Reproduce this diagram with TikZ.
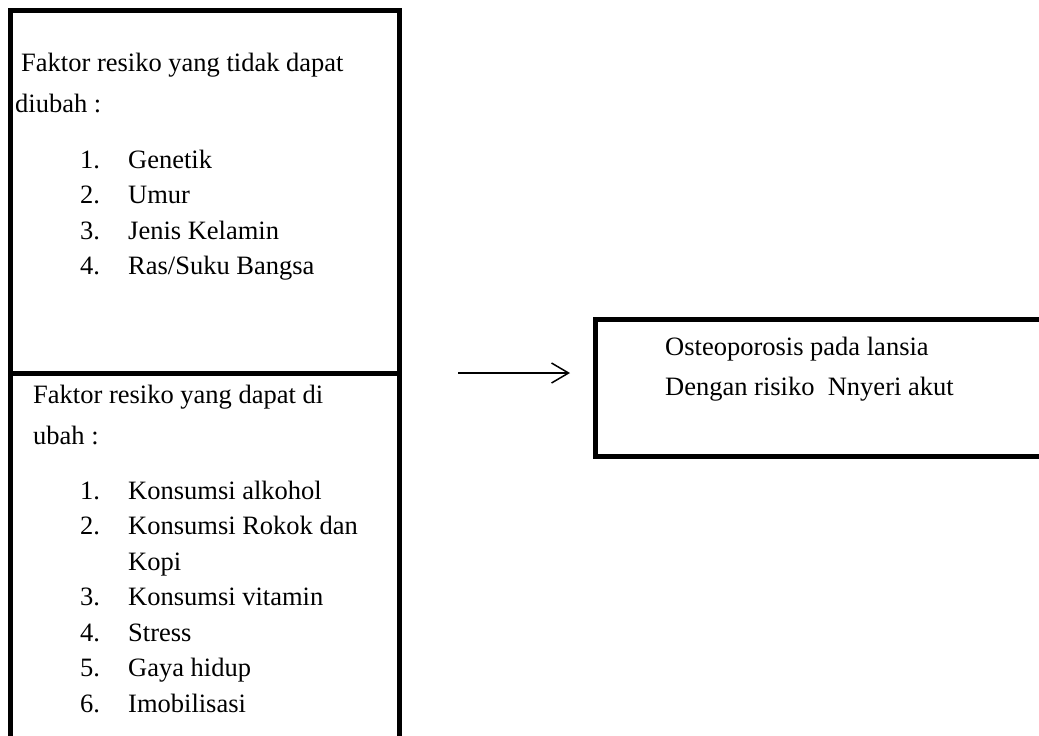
\documentclass[tikz,border=0pt]{standalone}
\usepackage{fontspec}
\setmainfont{Liberation Serif}
\usetikzlibrary{arrows.meta,positioning}

\begin{document}
\begin{tikzpicture}[
    x=1pt, y=-1pt,
    kotak/.style={draw, line width=5pt, rectangle, anchor=north west, inner sep=0pt, outer sep=0pt},
    teks/.style={anchor=base west, inner sep=0pt, font=\fontsize{26.5}{26.5}\selectfont},
    panah/.style={-{Straight Barb[length=17pt,width=20pt]}, line width=1.5pt}
  ]
  \useasboundingbox (0,0) rectangle (1039,736);
  \node[kotak, minimum width=389pt, minimum height=363.5pt] (tetap) at (10.5,10) {};
  \node[kotak, minimum width=389pt, minimum height=400pt] (ubah) at (10.5,373.5) {};
  \node[kotak, minimum width=450pt, minimum height=137pt] (hasil) at (595.5,319.5) {};

  \node[teks] (tetap-judul1) at (21,71) {Faktor resiko yang tidak dapat};
  \node[teks] (tetap-judul2) at (15,112) {diubah :};
  \foreach \isi [count=\i] in {Genetik, Umur, Jenis Kelamin, Ras/Suku Bangsa} {
    \node[teks] (tetap-no\i) at (80,{168+35.5*(\i-1)}) {\i.};
    \node[teks] (tetap-isi\i) at (128,{168+35.5*(\i-1)}) {\isi};
  }

  \node[teks] (ubah-judul1) at (33,403) {Faktor resiko yang dapat di};
  \node[teks] (ubah-judul2) at (33,444) {ubah :};
  \foreach \no/\isi/\baris in {1./Konsumsi alkohol/0, 2./Konsumsi Rokok dan/1, /Kopi/2,
      3./Konsumsi vitamin/3, 4./Stress/4, 5./Gaya hidup/5, 6./Imobilisasi/6} {
    \node[teks] (ubah-no\baris) at (80,{499+35.5*\baris}) {\no};
    \node[teks] (ubah-isi\baris) at (128,{499+35.5*\baris}) {\isi};
  }

  \node[teks] (hasil-1) at (665,355) {Osteoporosis pada lansia};
  \node[teks] (hasil-2) at (665,395) {Dengan risiko~ Nnyeri akut};

  \coordinate (awal) at (458,373);
  \coordinate (ujung) at (570,373);
  \draw[panah] (awal) -- (ujung);
\end{tikzpicture}
\end{document}
